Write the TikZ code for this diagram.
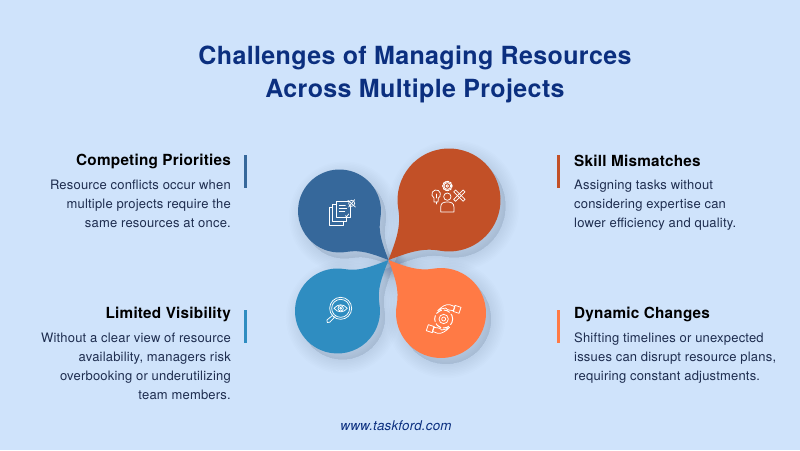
\documentclass[tikz,border=0pt]{standalone}
\usepackage{fontspec}
\setmainfont{TeX Gyre Heros}[LetterSpace=1.5]
\usetikzlibrary{calc}
\definecolor{bg}{HTML}{CFE3FB}
\definecolor{navy}{HTML}{0B2F7F}
\definecolor{ink}{HTML}{1E2D4F}
\definecolor{shad}{HTML}{33486E}
\definecolor{cdblue}{HTML}{36689B}
\definecolor{cred}{HTML}{C25027}
\definecolor{cblue}{HTML}{2F8DC1}
\definecolor{corange}{HTML}{FF7A45}
\tikzset{x=1pt,y=1pt,
 headtext/.style={font=\fontsize{15.3}{18}\selectfont\bfseries,text=black,inner sep=0pt},
 bodyL/.style={font=\fontsize{13}{19}\selectfont,text=ink,inner sep=0pt,align=right,anchor=north east},
 bodyR/.style={font=\fontsize{13}{19}\selectfont,text=ink,inner sep=0pt,align=left,anchor=north west},
 ico/.style={draw=white,line width=0.75pt,fill=none,line join=round,line cap=round},
 icogrid/.style={x=0.3333pt,y=-0.3333pt}}
\newcommand{\blobpath}[4]{%
 \pgfmathsetmacro\bcx{#1}\pgfmathsetmacro\bcy{450-#2}%
 \pgfmathsetmacro\dirA{atan2(190-\bcy,388.5-\bcx)}%
 \pgfmathsetmacro\aS{\dirA+#4}\pgfmathsetmacro\aE{\dirA+360-#4}%
 \pgfmathsetmacro\kC{0.34*#3}\pgfmathsetmacro\kM{0.42*#3}%
 \pgfmathsetmacro\mA{\dirA+180-24}\pgfmathsetmacro\mB{\dirA+180+24}%
 \coordinate (TT) at (388.5,190);
 \coordinate (CC) at (\bcx,\bcy);
 \coordinate (AS) at ($(CC)+(\aS:#3)$);
 \coordinate (AE) at ($(CC)+(\aE:#3)$);
 \coordinate (C1) at ($(AS)+(\aS-90:\kC)$);
 \coordinate (C2) at ($(AE)+(\aE+90:\kC)$);
 \coordinate (M1) at ($(TT)+(\mA:\kM)$);
 \coordinate (M2) at ($(TT)+(\mB:\kM)$);
}
\newcommand{\blobshadow}[4]{%
 \blobpath{#1}{#2}{#3}{#4}%
 \foreach \w in {28,25,22,19,16,13,10,7,4,1}{%
  \draw[line width=\w pt,draw=shad,fill=shad,opacity=0.012,transform canvas={shift={(5,-6)}},line join=round]
   (AS) arc[start angle=\aS,end angle=\aE,radius=#3] .. controls (C2) and (M2) .. (TT) .. controls (M1) and (C1) .. (AS) -- cycle;}
}
\newcommand{\blob}[5]{%
 \blobpath{#1}{#2}{#3}{#4}%
 \fill[#5] (AS) arc[start angle=\aS,end angle=\aE,radius=#3] .. controls (C2) and (M2) .. (TT) .. controls (M1) and (C1) .. (AS) -- cycle;
}
\begin{document}
\begin{tikzpicture}
\useasboundingbox (0,0) rectangle (800,450);
\fill[bg] (0,0) rectangle (800,450);
\node[font=\fontsize{25}{33}\selectfont\bfseries,text=navy,align=center,inner sep=0pt] (title) at (415,376) {Challenges of Managing Resources\\Across Multiple Projects};

\blobshadow{339.5}{211}{41.5}{35}
\blobshadow{449}{200}{51.5}{35}
\blobshadow{337.5}{311}{42.5}{35}
\blobshadow{441}{313}{45}{35}
\blob{339.5}{211}{41.5}{35}{cdblue}
\blob{449}{200}{51.5}{35}{cred}
\blob{337.5}{311}{42.5}{35}{cblue}
\blob{441}{313}{45}{35}{corange}

% icon 1: documents and pin
\begin{scope}[shift={(310,275)},icogrid]
 \draw[ico] (78,78) rectangle (120,128);
 \draw[ico] (78,88) -- (68,88) -- (68,140) -- (110,140) -- (110,128);
 \draw[ico] (68,98) -- (58,98) -- (58,150) -- (100,150) -- (100,140);
 \draw[ico] (88,92) -- (106,92) (88,100) -- (110,100) (88,108) -- (104,108);
 \draw[ico] (106,122) -- (110,125) -- (116,117);
 \draw[ico,fill=cdblue] (125,85) circle[radius=9];
 \draw[ico] (114,76) -- (136,96) (134,74) -- (116,96);
\end{scope}
% icon 2: person, bulb, gear, tools
\begin{scope}[shift={(420,280)},icogrid]
 \draw[ico] (42,84) arc[start angle=120,end angle=420,radius=13] -- (54,96) -- (42,96) -- cycle;
 \draw[ico] (48,96) -- (48,102) (48,84) -- (48,72);
 \draw[ico,dash pattern=on 1.5pt off 1.2pt,line width=1.3pt] (82,48) circle[radius=14];
 \draw[ico] (82,48) circle[radius=10] (82,48) circle[radius=4];
 \draw[ico] (82,80) circle[radius=11];
 \draw[ico] (62,126) -- (62,112) .. controls (62,98) and (72,96) .. (82,96) .. controls (92,96) and (102,98) .. (102,112) -- (102,126) -- cycle;
 \draw[ico,rotate around={45:(118,77)}] (114,57) rectangle (122,97);
 \draw[ico,rotate around={-45:(118,77)}] (114,57) rectangle (122,97);
\end{scope}
% icon 3: magnifier and eye
\begin{scope}[shift={(310,165)},icogrid]
 \draw[ico] (92,70) circle[radius=33] (92,70) circle[radius=27];
 \draw[ico] (72,70) .. controls (84,56) and (100,56) .. (112,70) .. controls (100,84) and (84,84) .. (72,70) -- cycle;
 \draw[ico] (92,70) circle[radius=8] (92,70) circle[radius=3];
 \draw[ico] (69,90) -- (51,105) .. controls (47,110) and (54,117) .. (59,112) -- (75,95);
\end{scope}
% icon 4: hands and gear
\begin{scope}[shift={(415,160)},icogrid]
 \draw[ico] (86,87) circle[radius=14] (86,87) circle[radius=6];
 \draw[ico,dash pattern=on 6pt off 2.5pt,line width=1pt] (86,87) circle[radius=27];
 \foreach \r in {0,180}{
 \begin{scope}[rotate around={\r:(86,87)}]
  \draw[ico] (68,62) .. controls (80,50) and (92,42) .. (104,44) -- (120,50) -- (116,62) .. controls (108,62) and (96,60) .. (92,54) .. controls (84,54) and (76,58) .. (68,62) -- cycle;
  \draw[ico] (120,46) -- (138,52) -- (132,70) -- (114,64) -- cycle;
 \end{scope}}
\end{scope}

% left text
\node[headtext,anchor=east] (h1) at (231,289) {Competing Priorities};
\node[bodyL] (b1) at (231,270) {Resource conflicts occur when\\multiple projects require the\\same resources at once.};
\node[headtext,anchor=east] (h2) at (231,136) {Limited Visibility};
\node[bodyL] (b2) at (231,117) {Without a clear view of resource\\availability, managers risk\\overbooking or underutilizing\\team members.};
% right text
\node[headtext,anchor=west] (h3) at (574,289) {Skill Mismatches};
\node[bodyR] (b3) at (574,270) {Assigning tasks without\\considering expertise can\\lower efficiency and quality.};
\node[headtext,anchor=west] (h4) at (574,136) {Dynamic Changes};
\node[bodyR] (b4) at (574,117) {Shifting timelines or unexpected\\issues can disrupt resource plans,\\requiring constant adjustments.};
% bars
\fill[cdblue] (244,262) rectangle (247,295);
\fill[cblue] (244,107) rectangle (247,140);
\fill[cred] (557,262) rectangle (560,295);
\fill[corange] (557,107) rectangle (560,140);
\node[font=\fontsize{13.4}{15}\selectfont\itshape,text=navy,inner sep=0pt] (url) at (396,24) {www.taskford.com};
\end{tikzpicture}
\end{document}
